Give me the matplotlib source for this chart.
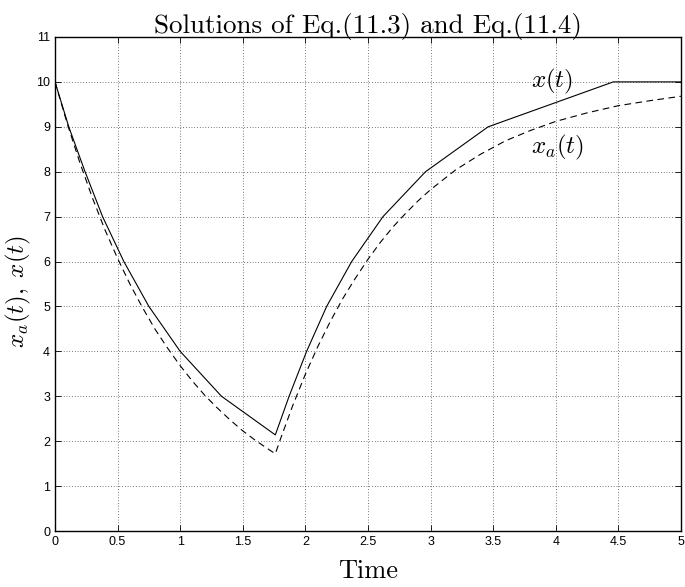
import matplotlib
matplotlib.use("Agg")
import matplotlib.pyplot as plt

plt.rcParams['mathtext.fontset'] = 'cm'

# x(t): piecewise linear solution (vertices)
t_x = [0, 0.11, 0.24, 0.38, 0.55, 0.75, 1.0, 1.33, 1.76, 1.87, 2.01, 2.17, 2.37,
       2.62, 2.96, 3.46, 4.46, 5.0]
x_vals = [10, 9, 8, 7, 6, 5, 4, 3, 2.14, 3, 4, 5, 6, 7, 8, 9, 10, 10]

# x_a(t): smooth solution (dashed)
t_xa = [0, 0.1, 0.2, 0.3, 0.4, 0.5, 0.6, 0.7, 0.8, 0.9, 1.0, 1.1, 1.2, 1.3, 1.4,
        1.5, 1.6, 1.7, 1.76, 1.8, 1.9, 2.0, 2.1, 2.2, 2.3, 2.4, 2.5, 2.6, 2.7,
        2.8, 2.9, 3.0, 3.2, 3.4, 3.6, 3.8, 4.0, 4.25, 4.5, 4.75, 5.0]
xa_vals = [10, 9.05, 8.19, 7.41, 6.70, 6.07, 5.49, 4.97, 4.49, 4.07, 3.68, 3.33,
           3.01, 2.73, 2.47, 2.23, 2.02, 1.83, 1.72, 2.04, 2.80, 3.49, 4.11, 4.67,
           5.18, 5.63, 6.05, 6.43, 6.77, 7.07, 7.35, 7.60, 8.04, 8.39, 8.69, 8.92,
           9.12, 9.31, 9.47, 9.58, 9.68]

xticks = [0, 0.5, 1, 1.5, 2, 2.5, 3, 3.5, 4, 4.5, 5]
xtick_labels = ["0", "0.5", "1", "1.5", "2", "2.5", "3", "3.5", "4", "4.5", "5"]
yticks = list(range(0, 12))

fig = plt.figure(figsize=(6.85, 5.87), dpi=100)
ax = fig.add_axes([0.0803, 0.0954, 0.9137, 0.8416])

ax.plot(t_x, x_vals, color="black", lw=0.8)
ax.plot(t_xa, xa_vals, color="black", lw=0.8, ls=(0, (6, 4)))

ax.set_xlim(0, 5)
ax.set_ylim(0, 11)
ax.set_xticks(xticks)
ax.set_xticklabels(xtick_labels)
ax.set_yticks(yticks)
ax.tick_params(direction="in", top=True, right=True, labelsize=9, length=4,
               width=0.6)
for lab in ax.get_xticklabels() + ax.get_yticklabels():
    lab.set_family("Liberation Sans")
for s in ax.spines.values():
    s.set_linewidth(1.0)
ax.grid(True, ls=(0, (1, 3)), color="black", lw=0.5)

ax.set_title("Solutions of Eq.(11.3) and Eq.(11.4)", fontfamily="cmr10",
             fontsize=19.5, pad=3)
ax.set_xlabel("Time", fontfamily="cmr10", fontsize=19, labelpad=8)
ax.set_ylabel(r"$x_a(t),\; x(t)$", fontsize=18, va="center")
ax.yaxis.set_label_coords(-0.058, 0.484)

ax.text(3.8, 10.0, r"$x(t)$", fontsize=18, va="center", ha="left")
ax.text(3.8, 8.53, r"$x_a(t)$", fontsize=18, va="center", ha="left")

fig.savefig("out.png", dpi=100)
